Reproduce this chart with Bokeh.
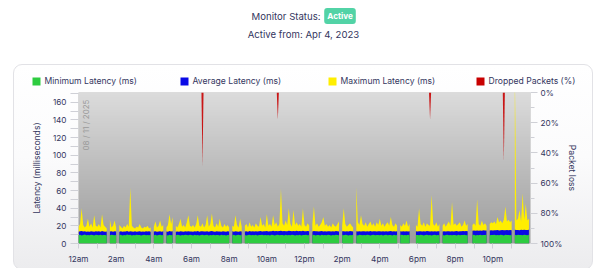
import numpy as np
from bokeh.plotting import figure
from bokeh.models import (Range1d, LinearAxis, FixedTicker, PrintfTickFormatter, Legend,
                          LegendItem, Label, Column)
from bokeh.embed import file_html
from bokeh.resources import INLINE

nan = float("nan")

# ---------------- data (5-minute samples over one day) ----------------
SAMPLE_MINUTES = 5

MIN_LATENCY = [
    9.5, 9.8, 9.2, 9.6, 10.1, 9.4, 9.7, 9.3, 9.9, 9.5, 9.1, 9.8, 9.6, 9.4, 10.0, 9.3, 9.7, 9.5, 9.2, nan, 9.4, 9.8, 9.6, 9.3,
    9.7, nan, 9.5, 9.9, 9.2, 9.6, 9.4, 10.2, 9.5, 9.8, 9.1, 9.6, 9.3, 9.9, 9.5, 9.7, 9.2, 9.6, 10.0, 9.4, 9.7, 9.3, 9.8, nan,
    9.4, 9.8, 9.2, 9.6, 9.9, 9.3, 9.7, nan, 9.5, 9.1, 9.8, 9.4, 9.6, nan, 9.3, 9.9, 9.5, 9.2, 9.7, 9.4, 10.0, 9.6, 9.3, 9.8,
    9.5, 9.2, 9.8, 9.4, 9.7, 9.1, 9.6, 9.9, 9.3, 9.5, 9.8, 9.2, 9.6, 9.4, 9.9, 9.3, 9.7, 9.5, 9.1, 9.8, 9.4, 9.6, 9.2, 9.7,
    9.6, nan, 9.4, 9.8, 9.2, 9.5, 9.9, 9.3, 9.7, nan, 9.5, 9.1, 9.6, 9.8, 9.3, 9.7, 9.4, 9.9, 9.2, 9.6, 9.5, 9.8, 9.3, 9.6,
    9.4, 9.7, 9.2, 9.8, 9.5, 9.1, 9.6, 9.9, 9.3, 9.5, 9.7, 9.2, 9.8, 9.4, 9.6, 9.3, 9.9, 9.5, 9.2, 9.7, 9.4, 9.8, 9.1, 9.6,
    9.5, 9.8, 9.3, 9.6, nan, 9.4, 9.9, 9.2, 9.7, 9.5, 9.1, 9.8, 9.4, 9.6, 9.3, 9.9, 9.5, 9.2, 9.7, 9.4, 9.8, 9.6, 9.3, nan,
    9.6, 9.3, 9.8, 9.5, 9.1, 9.7, 9.4, 9.9, nan, 9.5, 9.2, 9.8, 9.6, 9.3, 9.7, 9.4, 9.9, 9.5, 9.2, 9.6, 9.8, 9.3, 9.7, 9.5,
    9.4, 9.8, 9.2, 9.6, 9.9, 9.3, 9.7, 9.5, 9.1, 9.8, 9.4, 9.6, nan, 9.5, 9.9, 9.3, 9.7, 9.4, 9.8, 9.2, nan, 9.6, nan, 9.5,
    9.7, 9.3, 9.8, 9.5, 9.2, 9.6, 9.9, 9.4, 9.7, 9.1, 9.5, 9.8, 9.3, 9.6, 9.4, nan, 9.8, 9.2, 9.6, 9.9, 9.4, 9.7, 9.3, 9.5,
    9.6, 9.2, 9.8, 9.4, 9.7, 9.5, 9.9, 9.3, 9.6, nan, nan, 9.5, 9.8, 9.2, 9.6, 9.4, 9.9, 9.3, 9.7, 9.5, 9.8, nan, 9.4, 9.7,
    9.5, 9.8, 9.3, 9.7, 9.4, 9.9, 9.6, 9.2, 9.8, 9.5, 9.7, 9.3, 9.6, nan, 9.9, 9.4, 9.8, 9.5, 9.7, 9.3, 9.9, 9.6, 9.4, 9.8,
]

AVG_LATENCY = [
    13.4, 13.8, 14.1, 13.5, 13.9, 13.2, 13.7, 13.4, 14.0, 13.6, 13.3, 13.9, 13.5, 13.8, 13.2, 14.2, 13.6, 13.4, 13.7, nan, 13.5, 13.9, 13.3, 13.8,
    13.6, nan, 13.4, 13.9, 13.2, 13.7, 13.5, 14.1, 13.3, 14.0, 13.6, 13.4, 13.8, 13.2, 13.7, 13.9, 13.4, 13.6, 13.3, 13.8, 13.5, 13.9, 13.4, nan,
    13.5, 13.9, 13.3, 13.7, 14.0, 13.4, 13.8, nan, 13.6, 13.2, 14.1, 13.5, 13.9, nan, 13.4, 13.7, 13.3, 13.8, 13.6, 13.4, 13.9, 13.5, 14.0, 13.6,
    13.7, 13.4, 13.9, 13.5, 14.1, 13.3, 13.8, 14.0, 13.5, 13.7, 13.9, 13.4, 13.8, 14.2, 13.6, 13.4, 13.9, 13.5, 13.7, 13.3, 13.8, 13.6, 13.4, 13.9,
    13.6, nan, 13.8, 13.4, 14.0, 13.6, 13.3, 13.9, 13.5, nan, 13.7, 13.9, 13.4, 14.1, 13.6, 13.8, 13.5, 14.0, 13.7, 13.9, 14.1, 13.6, 14.0, 13.8,
    14.1, 13.7, 14.0, 13.8, 14.3, 13.9, 14.2, 13.8, 14.1, 14.4, 13.9, 14.2, 14.0, 13.8, 14.3, 14.1, 13.9, 14.2, 14.0, 14.4, 13.9, 14.1, 13.8, 14.3,
    14.0, 13.8, 14.2, 13.9, nan, 13.7, 14.1, 13.8, 14.0, 13.6, 13.9, 14.1, 13.7, 13.9, 13.5, 13.8, 14.0, 13.6, 13.9, 13.7, 14.1, 13.8, 13.6, nan,
    13.8, 14.0, 13.6, 13.9, 13.7, 14.1, 13.8, 13.5, nan, 14.0, 13.7, 13.9, 13.6, 14.0, 13.8, 13.5, 13.9, 13.7, 14.1, 13.6, 13.8, 14.0, 13.7, 13.9,
    13.8, 13.5, 13.9, 13.7, 14.0, 13.6, 13.8, 14.1, 13.7, 13.9, 13.5, 13.8, nan, 13.9, 13.6, 14.0, 13.7, 13.9, 13.5, 13.8, nan, 13.7, nan, 13.9,
    13.6, 14.0, 13.8, 13.5, 13.9, 13.7, 14.1, 13.8, 13.6, 14.0, 13.7, 13.9, 13.5, 13.8, 14.0, nan, 13.7, 13.9, 13.6, 14.0, 13.8, 13.5, 13.9, 13.7,
    13.8, 14.1, 13.7, 14.0, 13.8, 14.2, 13.9, 14.1, 13.8, nan, nan, 14.3, 14.6, 14.4, 14.8, 14.5, 14.7, 14.4, 14.9, 14.6, 14.8, nan, 14.7, 15.0,
    14.8, 15.1, 14.9, 15.2, 14.8, 15.0, 15.3, 14.9, 15.1, 15.4, 15.0, 15.2, 14.9, nan, 15.5, 15.2, 15.4, 15.1, 15.6, 15.3, 15.5, 15.2, 15.4, 15.6,
]

MAX_LATENCY = [
    19, 22, 40, 21, 18, 20, 28, 19, 23, 18, 32, 20, 19, 22, 18, 33, 21, 19, 17, nan, 27, 18, 20, 26,
    18, nan, 21, 19, 17, 20, 18, 22, 19, 63, 20, 18, 17, 19, 18, 22, 18, 17, 19, 18, 20, 17, 18, nan,
    19, 25, 18, 20, 26, 19, 21, nan, 18, 21, 33, 22, 30, nan, 20, 18, 22, 28, 19, 21, 18, 24, 32, 20,
    19, 21, 18, 22, 32, 20, 19, 23, 18, 21, 32, 19, 22, 34, 20, 18, 23, 19, 28, 20, 18, 22, 19, 21,
    18, nan, 20, 19, 32, 21, 18, 28, 19, nan, 20, 22, 18, 24, 19, 21, 18, 23, 20, 19, 30, 20, 22, 18,
    33, 20, 22, 19, 32, 21, 24, 19, 22, 62, 23, 20, 26, 21, 40, 22, 19, 38, 21, 24, 20, 22, 19, 40,
    21, 19, 23, 20, nan, 22, 42, 20, 23, 19, 21, 24, 30, 20, 22, 19, 21, 18, 23, 20, 19, 22, 25, nan,
    20, 40, 22, 19, 21, 23, 20, 18, nan, 64, 24, 21, 32, 22, 20, 24, 19, 22, 25, 20, 23, 19, 24, 21,
    28, 20, 23, 19, 22, 24, 20, 30, 21, 19, 23, 20, nan, 21, 19, 23, 20, 26, 19, 22, nan, 20, nan, 21,
    19, 40, 22, 20, 24, 19, 23, 21, 20, 55, 22, 20, 24, 19, 22, nan, 20, 23, 19, 22, 25, 20, 47, 21,
    23, 20, 22, 24, 19, 21, 26, 20, 22, nan, nan, 21, 23, 20, 50, 22, 20, 26, 21, 23, 20, nan, 22, 24,
    23, 25, 22, 30, 24, 26, 23, 27, 42, 25, 27, 24, 26, nan, 200, 26, 28, 38, 25, 57, 27, 45, 26, 28,
]

DROP_SAMPLES = [79, 127, 224, 271]      # sample index of each loss event
DROP_PCT = [49, 18, 18, 46]             # packet loss (%)

HOUR_TICKS = [0, 2, 4, 6, 8, 10, 12, 14, 16, 18, 20, 22]
HOUR_LABELS = ["12am", "2am", "4am", "6am", "8am", "10am", "12pm", "2pm", "4pm", "6pm", "8pm", "10pm"]
LAT_TICKS = [0, 20, 40, 60, 80, 100, 120, 140, 160]
PCT_TICKS = [0, 20, 40, 60, 80, 100]

SERIES_NAMES = ["Minimum Latency (ms)", "Average Latency (ms)", "Maximum Latency (ms)", "Dropped Packets (%)"]
SERIES_COLORS = ["#2ecc40", "#0a0ae6", "#ffee00", "#c80000"]
DATE_TEXT = "08 / 11 / 2025"
STATUS = "Active"
ACTIVE_FROM = "Active from: Apr 4, 2023"

# ---------------- build ----------------
FONT = "Inter"
NAVY = "#34365e"
n = len(MIN_LATENCY)
hours = np.arange(n) * SAMPLE_MINUTES / 60.0


def segments(values):
    v = np.array(values, dtype=float)
    ok = ~np.isnan(v)
    xs, ys = [], []
    i = 0
    while i < n:
        if not ok[i]:
            i += 1
            continue
        j = i
        while j < n and ok[j]:
            j += 1
        sx = list(hours[i:j])
        sy = list(v[i:j])
        xs.append(sx + sx[::-1])
        ys.append(sy + [0.0] * (j - i))
        i = j
    return xs, ys


def bare(w, h):
    f = figure(width=w, height=h, output_backend="svg", toolbar_location=None,
               x_range=Range1d(0, w), y_range=Range1d(h, 0),
               x_axis_type=None, y_axis_type=None,
               min_border_left=0, min_border_right=0, min_border_top=0, min_border_bottom=0)
    f.frame_align = False
    f.grid.visible = False
    f.outline_line_color = None
    f.background_fill_alpha = 0
    f.border_fill_alpha = 0
    return f


# ---- header (status lines) ----
head = bare(600, 64)
head.background_fill_color = "white"
head.background_fill_alpha = 1
head.add_layout(Label(x=320, y=15.5, text="Monitor Status:", text_align="right", text_baseline="middle",
                      text_font=FONT, text_font_size="9.6px", text_color=NAVY))
head.add_layout(Label(x=339.5, y=15.5, text=STATUS, text_align="center", text_baseline="middle",
                      text_font=FONT, text_font_size="8.2px", text_font_style="bold", text_color="white",
                      background_fill_color="#52d3a6", border_radius=3, padding=3))
head.add_layout(Label(x=303, y=33.5, text=ACTIVE_FROM, text_align="center", text_baseline="middle",
                      text_font=FONT, text_font_size="9.6px", text_color=NAVY))

# ---- legend strip (inside the card) ----
CARD_W = 578
leg = bare(CARD_W, 21)
leg_renderers = [leg.quad(left=[-50], right=[-40], top=[-50], bottom=[-40], fill_color=c, line_color=None)
                 for c in SERIES_COLORS]
legend = Legend(items=[LegendItem(label=name, renderers=[r]) for name, r in zip(SERIES_NAMES, leg_renderers)],
                orientation="horizontal", location=(16.5, 0),
                glyph_width=10, glyph_height=10, label_standoff=4, spacing=34,
                label_width=100, label_height=10, padding=0, margin=0,
                border_line_color=None, background_fill_alpha=0,
                label_text_font=FONT, label_text_font_size="8.6px", label_text_color=NAVY)
leg.add_layout(legend, "center")

# ---- main chart ----
p = figure(width=CARD_W, height=183, output_backend="svg", toolbar_location=None,
           x_range=Range1d(0, 24), y_range=Range1d(0, 171),
           min_border_left=64, min_border_right=62, min_border_top=6, min_border_bottom=26)
p.frame_align = False
p.border_fill_alpha = 0
p.background_fill_color = "#bbbbbb"
p.outline_line_color = None
p.xgrid.visible = False
p.ygrid.visible = False
p.extra_y_ranges = {"pct": Range1d(start=100, end=0)}

rows = 120
img = np.empty((rows, 1), dtype=np.uint32)
view = img.view(dtype=np.uint8).reshape((rows, 1, 4))
top_c = np.array([0xdc, 0xdc, 0xdc], dtype=float)
bot_c = np.array([0x9d, 0x9d, 0x9d], dtype=float)
for k in range(rows):
    f = k / (rows - 1)
    c = bot_c + (top_c - bot_c) * f
    view[k, 0, 0:3] = c.astype(np.uint8)
    view[k, 0, 3] = 255
p.image_rgba(image=[img], x=0, y=0, dw=24, dh=171)

mx_xs, mx_ys = segments(MAX_LATENCY)
av_xs, av_ys = segments(AVG_LATENCY)
mn_xs, mn_ys = segments(MIN_LATENCY)
p.patches(xs=mx_xs, ys=mx_ys, fill_color=SERIES_COLORS[2], line_color=None)
p.patches(xs=av_xs, ys=av_ys, fill_color=SERIES_COLORS[1], line_color=None)
p.patches(xs=mn_xs, ys=mn_ys, fill_color=SERIES_COLORS[0], line_color=None)

# dropped packets: narrow spikes hanging from the 0% line
half = 0.055
drop_xs = [[hours[i] - half, hours[i], hours[i] + half] for i in DROP_SAMPLES]
drop_ys = [[0, pct, 0] for pct in DROP_PCT]
p.patches(xs=drop_xs, ys=drop_ys, y_range_name="pct", fill_color=SERIES_COLORS[3],
          fill_alpha=0.9, line_color=None)

ax = p.xaxis[0]
ax.ticker = FixedTicker(ticks=HOUR_TICKS, minor_ticks=[h + 1 for h in HOUR_TICKS])
ax.major_label_overrides = dict(zip(HOUR_TICKS, HOUR_LABELS))

ay = p.yaxis[0]
ay.ticker = FixedTicker(ticks=LAT_TICKS, minor_ticks=[t + 10 for t in LAT_TICKS])
ay.axis_label = "Latency (milliseconds)"

ry = LinearAxis(y_range_name="pct", axis_label="Packet loss",
                ticker=FixedTicker(ticks=PCT_TICKS, minor_ticks=[t + 10 for t in PCT_TICKS[:-1]]),
                formatter=PrintfTickFormatter(format="%d%%"))
p.add_layout(ry, "right")

for a in (ax, ay, ry):
    a.axis_line_color = None
    a.major_tick_line_color = "#cfd0d6"
    a.minor_tick_line_color = "#cfd0d6"
    a.major_tick_in = 0
    a.minor_tick_in = 0
    a.major_label_text_font = FONT
    a.major_label_text_font_size = "8.2px"
    a.major_label_text_color = NAVY
    a.axis_label_text_font = FONT
    a.axis_label_text_font_size = "8.6px"
    a.axis_label_text_font_style = "normal"
    a.axis_label_text_color = NAVY
ax.major_tick_out = 5
ax.minor_tick_out = 5
ax.major_label_standoff = 5
ay.major_tick_out = 8
ay.minor_tick_out = 8
ay.major_label_standoff = 4
ay.axis_label_standoff = 8
ry.major_tick_out = 7
ry.minor_tick_out = 4
ry.major_label_standoff = 3
ry.axis_label_standoff = 2

p.add_layout(Label(x=0, y=163, x_offset=2, text=DATE_TEXT, angle=np.pi / 2,
                   text_align="right", text_baseline="top", text_font=FONT,
                   text_font_size="8px", text_color="#9a9a9a"))

card = Column(children=[leg, p], spacing=0, margin=(0, 0, 0, 13),
              styles={"border": "1px solid #e2e2e6", "border-radius": "9px",
                      "background": "linear-gradient(to bottom, #ffffff 0%, #fbfbfc 45%, #ececee 100%)"})
page = Column(children=[head, card], spacing=0)

open("out.html", "w").write(file_html(page, INLINE))
